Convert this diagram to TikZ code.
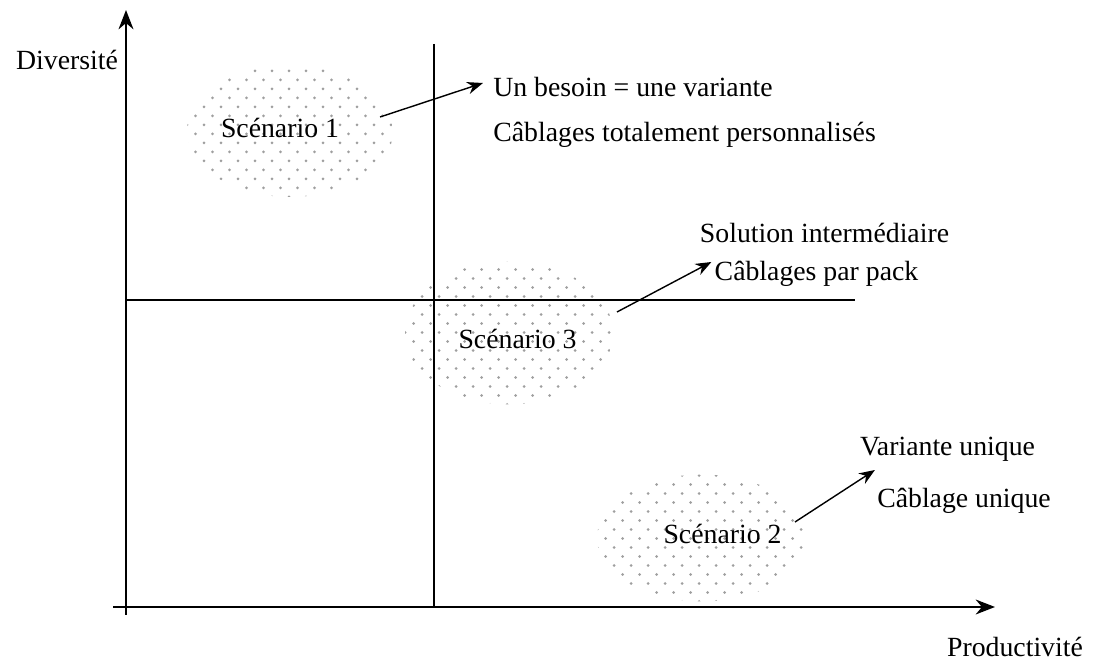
\documentclass[tikz,border=0pt]{standalone}
\usepackage{fontspec}
\setmainfont{Liberation Serif}
\usetikzlibrary{
    arrows.meta,
    calc
}

\tikzset{
    txt/.style={inner sep=0pt, font=\fontsize{15.8}{19}\selectfont},
    axis/.style={line width=1.1pt, -{Stealth[length=11pt,width=8.5pt]}},
    split/.style={line width=1.1pt},
    pointer/.style={line width=0.8pt, -{Stealth[length=9pt,width=7pt]}},
    blob/.style={path picture={
        \foreach \j in {0,...,17}{
            \foreach \i in {0,...,13}{
                \pgfmathsetmacro\xo{\i*0.34+mod(\j,2)*0.17}
                \fill[gray!75] ([shift={(\xo,\j*0.18)}]path picture bounding box.south west) circle (0.03);
            }
        }
    }}
}

\begin{document}
\begin{tikzpicture}
                                \useasboundingbox (0,0) rectangle (21.88,13.28);
                                % dotted clouds
                                \path[blob] (5.8,10.66) ellipse (2.06 and 1.32);
                                \path[blob] (10.18,6.62) ellipse (2.08 and 1.43);
                                \path[blob] (14.04,2.52) ellipse (2.1 and 1.27);
                                % axes and quadrants
                                \draw[axis] (2.52,0.98) -- (2.52,13.08);
                                \draw[axis] (2.26,1.14) -- (19.9,1.14);
                                \draw[split] (8.68,12.4) -- (8.68,1.14);
                                \draw[split] (2.52,7.28) -- (17.1,7.28);
                                \node[txt, anchor=base] (div) at (1.34,11.88) {Diversité};
                                \node[txt, anchor=base] (prod) at (20.3,0.14) {Productivité};
                                % scenarios
                                \node[txt, anchor=base] (sc1) at (5.6,10.52) {Scénario 1};
                                \node[txt, anchor=base] (sc3) at (10.35,6.3) {Scénario 3};
                                \node[txt, anchor=base] (sc2) at (14.45,2.4) {Scénario 2};
                                \node[txt, anchor=base west] (un) at (9.86,11.34) {Un besoin = une variante};
                                \node[txt, anchor=base west] (perso) at (9.86,10.44) {Câblages totalement personnalisés};
                                \node[txt, anchor=base] (sol) at (16.49,8.42) {Solution intermédiaire};
                                \node[txt, anchor=base] (pack) at (16.33,7.66) {Câblages par pack};
                                \node[txt, anchor=base] (var) at (18.95,4.16) {Variante unique};
                                \node[txt, anchor=base] (cab) at (19.28,3.12) {Câblage unique};
                                \draw[pointer] ($(sc1.base)+(2.0,0.42)$) -- ($(un.base west)+(-0.2,0.28)$);
                                \draw[pointer] ($(sc3.base)+(1.99,0.74)$) -- ($(pack.base west)+(-0.06,0.38)$);
                                \draw[pointer] ($(sc2.base)+(1.45,0.44)$) -- ($(cab.base west)+(-0.04,0.76)$);
                            \end{tikzpicture}
\end{document}
